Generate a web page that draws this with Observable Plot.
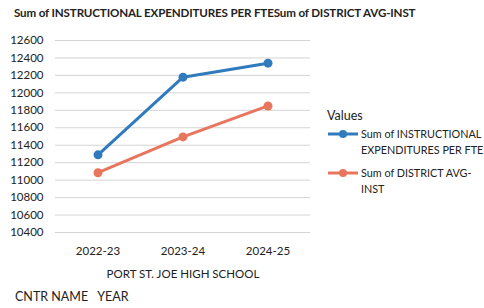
<!DOCTYPE html>
<html><head><meta charset="utf-8">
<script src="https://cdn.jsdelivr.net/npm/d3@7"></script>
<script src="https://cdn.jsdelivr.net/npm/@observablehq/plot@0.6"></script>
<style>
body{margin:0;background:#fff;font-family:Lato,"Open Sans",sans-serif;color:#222;}
#wrap{position:relative;width:484px;height:308px;overflow:hidden;}
#title{position:absolute;left:14px;top:6px;font-weight:bold;font-size:11.6px;white-space:nowrap;letter-spacing:-0.15px;}
#chart{position:absolute;left:0;top:28px;width:311px;height:256px;overflow:hidden;}
#chart svg{font-family:Lato,"Open Sans",sans-serif;color:#222;max-width:none !important;width:320px !important;height:256px !important;}
#legend{position:absolute;left:327px;top:108px;font-size:10.8px;line-height:16px;white-space:nowrap;}
#legend .hd{font-size:12.5px;margin-bottom:2px;}
#legend .it{display:flex;align-items:flex-start;margin-bottom:7px;}
#legend .sw{flex:none;margin-top:3px;margin-right:2px;}
#bottom{position:absolute;left:15px;top:289px;font-size:12.5px;white-space:nowrap;}
</style></head>
<body><div id="wrap">
<div id="title"></div>
<div id="chart"></div>
<div id="legend"></div>
<div id="bottom">CNTR NAME&nbsp;&nbsp;&nbsp;YEAR</div>
</div>
<script>
const titleText = "Sum of INSTRUCTIONAL EXPENDITURES PER FTESum of DISTRICT AVG-INST";
const years = ["2022-23", "2023-24", "2024-25"];
const seriesNames = ["Sum of INSTRUCTIONAL EXPENDITURES PER FTE", "Sum of DISTRICT AVG-INST"];
const instrValues = [11290, 12180, 12340];
const districtValues = [11085, 11495, 11850];
const yTicks = [10400, 10600, 10800, 11000, 11200, 11400, 11600, 11800, 12000, 12200, 12400, 12600];
const xLabel = "PORT ST. JOE HIGH SCHOOL";
const colors = ["#2f7bbd", "#e8765e"];

document.getElementById("title").textContent = titleText;

const data = [];
years.forEach((y, i) => {
  data.push({year: y, series: seriesNames[0], value: instrValues[i]});
  data.push({year: y, series: seriesNames[1], value: districtValues[i]});
});

const plot = Plot.plot({
  width: 320, height: 256,
  marginLeft: 55, marginRight: 10, marginTop: 12, marginBottom: 52,
  x: {type: "band", domain: years, padding: 0, axis: null},
  y: {domain: [10400, 12600], axis: null},
  color: {domain: seriesNames, range: colors},
  marks: [
    Plot.ruleY(yTicks, {stroke: "#d4d4d4", strokeWidth: 1}),
    Plot.axisY({ticks: yTicks, tickSize: 0, tickPadding: 12, label: null, tickFormat: d => String(d), fontSize: 11.5}),
    Plot.axisX({tickSize: 0, tickPadding: 14, label: xLabel, labelAnchor: "center", labelOffset: 45, fontSize: 11.5}),
    Plot.line(data, {x: "year", y: "value", z: "series", stroke: "series", strokeWidth: 3}),
    Plot.dot(data, {x: "year", y: "value", fill: "series", r: 4.5})
  ]
});
document.getElementById("chart").appendChild(plot);

const lg = document.getElementById("legend");
lg.innerHTML = '<div class="hd">Values</div>';
const legendLines = [["Sum of INSTRUCTIONAL", "EXPENDITURES PER FTE"], ["Sum of DISTRICT AVG-", "INST"]];
seriesNames.forEach((s, i) => {
  const it = document.createElement("div");
  it.className = "it";
  it.innerHTML = `<svg class="sw" width="32" height="10"><line x1="1" x2="31" y1="5" y2="5" stroke="${colors[i]}" stroke-width="3"/><circle cx="16" cy="5" r="4" fill="${colors[i]}"/></svg><div>${legendLines[i][0]}<br>${legendLines[i][1]}</div>`;
  lg.appendChild(it);
});
</script>
</body></html>
